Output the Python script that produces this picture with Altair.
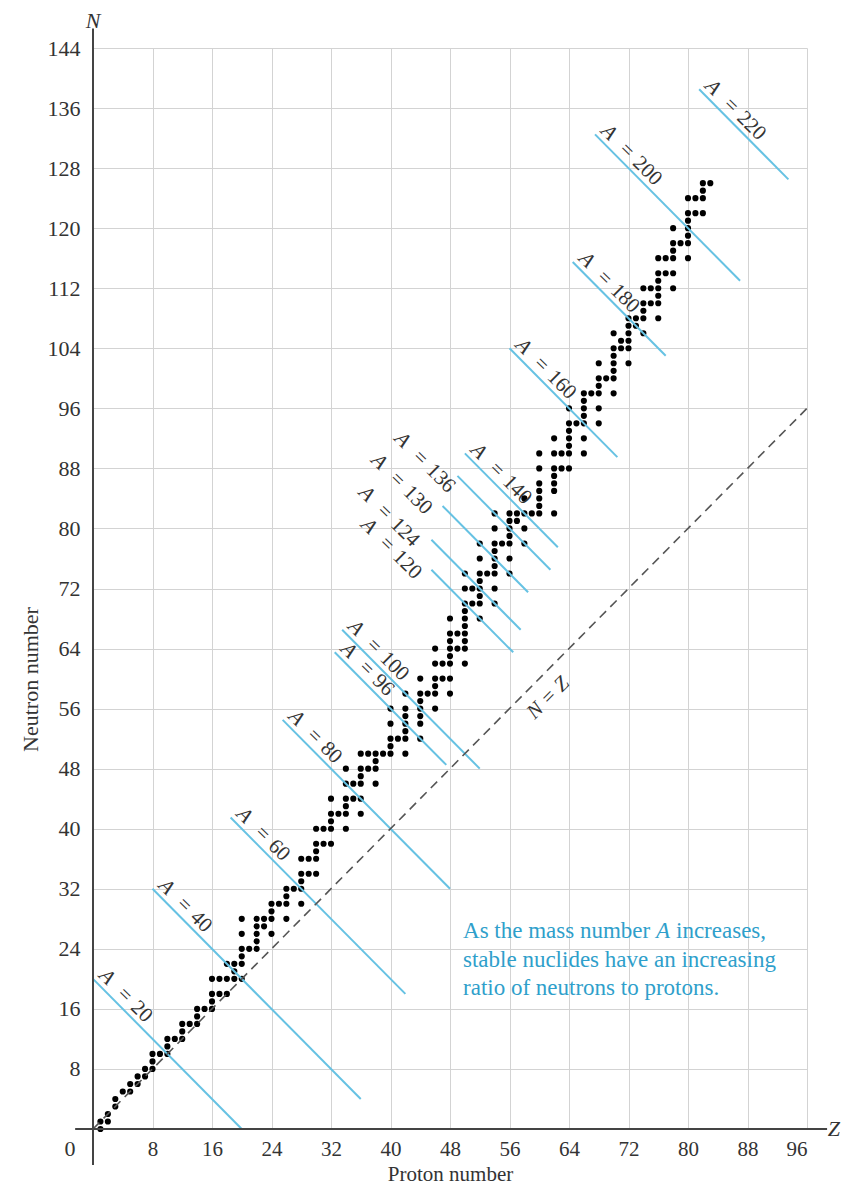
import altair as alt
import pandas as pd

FONT = "Liberation Serif"
BLUE_LINE = "#66c2e3"
BLUE_TEXT = "#2f9fcb"
INK = "#333333"

# ---- stable nuclides: proton number Z and the neutron numbers at that Z
proton_z = [1, 2, 3, 4, 5, 6, 7, 8, 9, 10, 11, 12, 13, 14, 15, 16, 17, 18, 19, 20,
            21, 22, 23, 24, 25, 26, 27, 28, 29, 30, 31, 32, 33, 34, 35, 36, 37, 38, 39, 40,
            41, 42, 44, 45, 46, 47, 48, 49, 50, 51, 52, 53, 54, 55, 56, 57, 58, 59, 60,
            62, 63, 64, 65, 66, 67, 68, 69, 70, 71, 72, 73, 74, 75, 76, 77, 78, 79, 80,
            81, 82, 83]
neutron_sets = [
    [0, 1], [1, 2], [3, 4], [5], [5, 6], [6, 7], [7, 8], [8, 9, 10], [10], [10, 11, 12],
    [12], [12, 13, 14], [14], [14, 15, 16], [16], [16, 17, 18, 20], [18, 20], [18, 20, 22],
    [20, 21, 22], [20, 22, 23, 24, 26, 28],
    [24], [24, 25, 26, 27, 28], [27, 28], [26, 28, 29, 30], [30], [28, 30, 31, 32], [32],
    [30, 32, 33, 34, 36], [34, 36], [34, 36, 37, 38, 40], [38, 40], [38, 40, 41, 42, 44],
    [42], [40, 42, 43, 44, 46, 48], [44, 46], [42, 44, 46, 47, 48, 50], [48, 50],
    [46, 48, 49, 50], [50], [50, 51, 52, 54, 56],
    [52], [50, 52, 53, 54, 55, 56, 58], [52, 54, 55, 56, 57, 58, 60], [58],
    [56, 58, 59, 60, 62, 64], [60, 62], [58, 60, 62, 63, 64, 65, 66, 68], [64, 66],
    [62, 64, 65, 66, 67, 68, 69, 70, 72, 74], [70, 72], [68, 70, 71, 72, 73, 74, 76, 78],
    [74], [70, 72, 74, 75, 76, 77, 78, 80, 82], [78], [74, 76, 78, 79, 80, 81, 82],
    [81, 82], [78, 80, 82, 84], [82], [82, 83, 84, 85, 86, 88, 90],
    [82, 85, 86, 87, 88, 90, 92], [88, 90], [88, 90, 91, 92, 93, 94, 96], [94],
    [90, 92, 94, 95, 96, 97, 98], [98], [94, 96, 98, 99, 100, 102], [100],
    [98, 100, 101, 102, 103, 104, 106], [104, 105], [102, 104, 105, 106, 107, 108],
    [107, 108], [106, 108, 109, 110, 112], [110, 112], [108, 110, 111, 112, 113, 114, 116],
    [114, 116], [112, 114, 116, 117, 118, 120], [118], [116, 118, 119, 120, 121, 122, 124],
    [122, 124], [122, 124, 125, 126], [126],
]

# ---- axes
x_ticks = [8, 16, 24, 32, 40, 48, 56, 64, 72, 80, 88, 96]
y_ticks = [8, 16, 24, 32, 40, 48, 56, 64, 72, 80, 88, 96, 104, 112, 120, 128, 136, 144]
x_axis_extent = [-2.4, 98.7]
y_axis_extent = [-4.8, 146.6]

# ---- constant-A lines (N = A - Z)
mass_numbers = [20, 40, 60, 80, 96, 100, 120, 124, 130, 136, 140, 160, 180, 200, 220]
line_z_start = [0, 8, 18.5, 25.5, 32.5, 33.5, 45.5, 45.5, 47, 49, 50, 56, 64.5, 67.5, 81.5]
line_z_end = [20, 36, 42, 48, 47.5, 52, 56.5, 57.5, 58.5, 61.5, 62.5, 70.5, 77, 87, 93.5]
# where each label starts along its line, and whether it sits above the line or before it
label_z = [0, 8, 18.5, 25.5, 32.5, 33.5, 37.6, 37.3, 39.0, 42.1, 50, 56, 64.5, 67.5, 81.5]
label_side = ["above", "above", "above", "above", "above", "above",
              "before", "before", "before", "before",
              "above", "above", "above", "above", "above"]

# ---- N = Z diagonal
diag_z = [0, 96]
nz_label_pos = [59.3, 59.3]

# ---- annotation
note_lines = ["As the mass number", "A", "increases,",
              "stable nuclides have an increasing", "ratio of neutrons to protons."]
note_pos = [49.75, 25.4]

# ------------------------------------------------------------------ data frames
nuc_rows = [{"Z": z, "N": n} for z, ns in zip(proton_z, neutron_sets) for n in ns]
nuc_df = pd.DataFrame(nuc_rows)

lines_df = pd.DataFrame({"A": mass_numbers, "Z": line_z_start, "Z2": line_z_end})
lines_df["N"] = lines_df["A"] - lines_df["Z"]
lines_df["N2"] = lines_df["A"] - lines_df["Z2"]

lab_df = pd.DataFrame({"A": mass_numbers, "Z": label_z, "side": label_side})
lab_df["N"] = lab_df["A"] - lab_df["Z"]
lab_df["num"] = lab_df["A"].astype(str)
lab_df["a"] = "A"
lab_df["eq"] = "="

xs = alt.Scale(domain=[0, 96], nice=False, zero=False)
ys = alt.Scale(domain=[0, 144], nice=False, zero=False)

x_axis = alt.Axis(values=x_ticks, grid=True, ticks=False, domain=False,
                  labelFont=FONT, labelFontSize=21, labelColor=INK, labelPadding=9,
                  title="Proton number", titleFont=FONT, titleFontSize=21,
                  titleFontWeight="normal", titleColor=INK,
                  titleBaseline="bottom", titleY=55,
                  gridColor="#d3d3d3", gridWidth=1)
y_axis = alt.Axis(values=y_ticks, grid=True, ticks=False, domain=False,
                  labelFont=FONT, labelFontSize=22, labelColor=INK, labelPadding=13,
                  title="Neutron number", titleFont=FONT, titleFontSize=22,
                  titleFontWeight="normal", titleColor=INK, titleAngle=270,
                  titleAlign="center", titleBaseline="middle", titleX=-63, titleY=631,
                  gridColor="#d3d3d3", gridWidth=1)


def X(f):
    return alt.X(f, type="quantitative", scale=xs, axis=x_axis)


def Y(f):
    return alt.Y(f, type="quantitative", scale=ys, axis=y_axis)


dots = alt.Chart(nuc_df).mark_circle(size=38, color="black", opacity=1).encode(
    x=X("Z"), y=Y("N"))

blue_lines = alt.Chart(lines_df).mark_rule(color=BLUE_LINE, strokeWidth=2).encode(
    x=X("Z"), x2="Z2", y=Y("N"), y2="N2")

diag_df = pd.DataFrame({"Z": [diag_z[0]], "Z2": [diag_z[1]], "N": [diag_z[0]], "N2": [diag_z[1]]})
diag = alt.Chart(diag_df).mark_rule(color="#555555", strokeWidth=1.6, strokeDash=[9, 6]).encode(
    x=X("Z"), x2="Z2", y=Y("N"), y2="N2")

nz_df = pd.DataFrame({"Z": [nz_label_pos[0]], "N": [nz_label_pos[1]], "t": ["N = Z"]})
nz_text = alt.Chart(nz_df).mark_text(font=FONT, fontSize=21, fontStyle="italic", angle=315,
                                     align="center", baseline="middle", dy=20, color=INK).encode(
    x=X("Z"), y=Y("N"), text="t:N")

ax_df = pd.DataFrame({"Z": [x_axis_extent[0]], "Z2": [x_axis_extent[1]], "N": [0]})
x_line = alt.Chart(ax_df).mark_rule(color="#444444", strokeWidth=2).encode(
    x=X("Z"), x2="Z2", y=Y("N"))
ay_df = pd.DataFrame({"Z": [0], "N": [y_axis_extent[0]], "N2": [y_axis_extent[1]]})
y_line = alt.Chart(ay_df).mark_rule(color="#444444", strokeWidth=2).encode(
    x=X("Z"), y=Y("N"), y2="N2")

corner_df = pd.DataFrame({"Z": [-3.1, 0, 99.6], "N": [-2.7, 147.6, 0], "t": ["0", "N", "Z"]})
corner0 = alt.Chart(corner_df.iloc[[0]]).mark_text(font=FONT, fontSize=22, color=INK,
                                                   align="center", baseline="middle").encode(
    x=X("Z"), y=Y("N"), text="t:N")
cornerNZ = alt.Chart(corner_df.iloc[[1, 2]]).mark_text(font=FONT, fontSize=22, color=INK,
                                                       fontStyle="italic", align="center",
                                                       baseline="middle").encode(
    x=X("Z"), y=Y("N"), text="t:N")

label_layers = []
for side, base, dy in [("above", "alphabetic", -5), ("before", "top", 3)]:
    sub = lab_df[lab_df["side"] == side]
    for field, dx, style in [("a", 2, "italic"), ("eq", 28, "normal"), ("num", 47, "normal")]:
        label_layers.append(
            alt.Chart(sub).mark_text(font=FONT, fontSize=21, fontStyle=style, color=INK,
                                     angle=45, align="left", baseline=base, dx=dx, dy=dy).encode(
                x=X("Z"), y=Y("N"), text=f"{field}:N"))

note_df = pd.DataFrame({"Z": [note_pos[0]], "N": [note_pos[1]]})
note_layers = []
note_specs = [(note_lines[0], 0, 0, "normal"), (note_lines[1], 193, 0, "italic"),
              (note_lines[2], 213, 0, "normal"), (note_lines[3], 0, 28.5, "normal"),
              (note_lines[4], 0, 57, "normal")]
for txt, dx, dy, style in note_specs:
    d = note_df.copy()
    d["t"] = txt
    note_layers.append(
        alt.Chart(d).mark_text(font=FONT, fontSize=23, fontStyle=style, color=BLUE_TEXT,
                               align="left", baseline="alphabetic", dx=dx, dy=dy).encode(
            x=X("Z"), y=Y("N"), text="t:N"))

chart = alt.layer(
    dots, blue_lines, diag, nz_text, *label_layers, *note_layers,
    x_line, y_line, corner0, cornerNZ,
).properties(
    width=714, height=1081,
    autosize=alt.AutoSizeParams(type="none"),
    padding={"left": 85, "top": 40, "right": 35, "bottom": 55},
    background="white",
).configure_view(stroke=None)

chart.save("out.html", embed_options={"renderer": "svg", "actions": False})
